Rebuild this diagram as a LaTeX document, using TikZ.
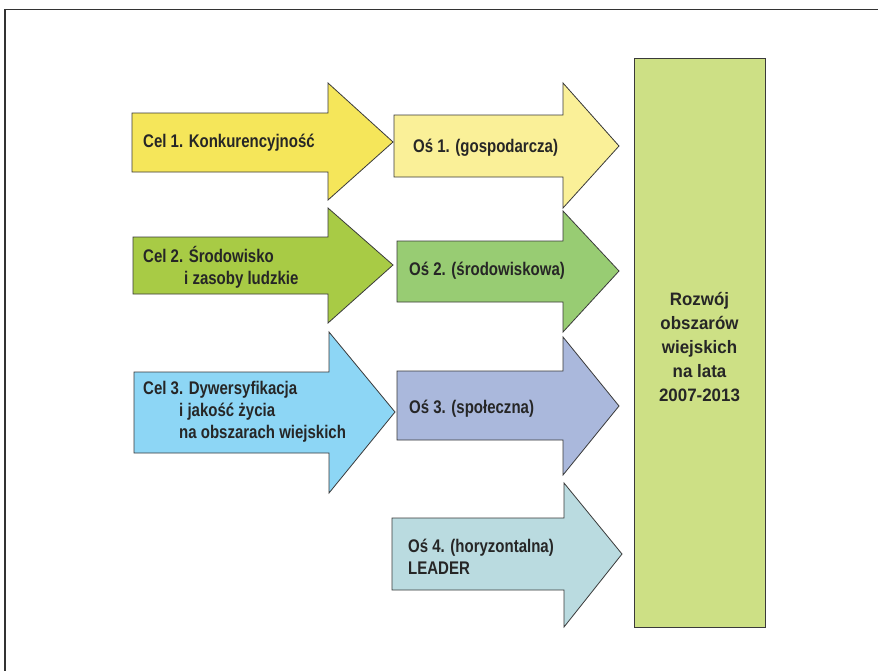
\documentclass[tikz,border=0pt]{standalone}
\usepackage{fontspec}
\setmainfont{Liberation Sans}[FakeStretch=0.82]
\newfontfamily\boxfont{Liberation Sans}[FakeStretch=0.94]
\definecolor{cyel}{HTML}{F5E65A}
\definecolor{oyel}{HTML}{FAF098}
\definecolor{cgrn}{HTML}{A8CB45}
\definecolor{ogrn}{HTML}{98CC73}
\definecolor{cblu}{HTML}{8DD6F5}
\definecolor{oblu}{HTML}{AAB8DC}
\definecolor{ocyn}{HTML}{BADBE0}
\definecolor{boxg}{HTML}{CDE085}
\definecolor{edge}{HTML}{3A3A3A}
\begin{document}
\begin{tikzpicture}[x=1pt,y=-1pt,
  shp/.style={draw=edge,line width=0.8pt,line join=miter},
  lbl/.style={anchor=west,inner sep=0pt,align=left,text=black!85,font=\bfseries\fontsize{18.3}{22}\selectfont},
  boxlbl/.style={inner sep=0pt,align=center,text=black!85,font=\boxfont\bfseries\fontsize{18}{24}\selectfont}]
\useasboundingbox (0,0) rectangle (878,670);
\fill[white] (0,0) rectangle (878,670);
% frame
\draw[line width=1.6pt,black!80] (5,671) -- (5,9.5) -- (879,9.5);
% arrows column 1
\draw[shp,fill=cyel] (132,113) -- (328,113) -- (328,83) -- (393,142) -- (328,200) -- (328,172) -- (132,172) -- cycle;
\draw[shp,fill=cgrn] (133,237) -- (328,237) -- (328,208) -- (393,265) -- (328,323) -- (328,294) -- (133,294) -- cycle;
\draw[shp,fill=cblu] (134,372) -- (329,372) -- (329,332) -- (395,412) -- (329,493) -- (329,453) -- (134,453) -- cycle;
% arrows column 2
\draw[shp,fill=oyel] (394,115) -- (563,115) -- (563,83) -- (619,146) -- (563,208) -- (563,177) -- (394,177) -- cycle;
\draw[shp,fill=ogrn] (397,241) -- (563,241) -- (563,211) -- (619,271) -- (563,332) -- (563,302) -- (397,302) -- cycle;
\draw[shp,fill=oblu] (397,371) -- (563,371) -- (563,337) -- (619,406) -- (563,475) -- (563,440) -- (397,440) -- cycle;
\draw[shp,fill=ocyn] (392,518) -- (564,518) -- (564,483) -- (622,554) -- (564,627) -- (564,590) -- (392,590) -- cycle;
% big box
\draw[shp,fill=boxg] (634,58) rectangle (765,627);
% labels
\node[lbl] (c1) at (143,143) {Cel 1. Konkurencyjność};
\node[lbl] (c2) at (143,267) {Cel 2. Środowisko\\\hspace*{41pt}i zasoby ludzkie};
\node[lbl] (c3) at (143,412) {Cel 3. Dywersyfikacja\\\hspace*{36pt}i jakość życia\\\hspace*{36pt}na obszarach wiejskich};
\node[lbl] (o1) at (413,148) {Oś 1. (gospodarcza)};
\node[lbl] (o2) at (409,271) {Oś 2. (środowiskowa)};
\node[lbl] (o3) at (409,409) {Oś 3. (społeczna)};
\node[lbl] (o4) at (408,557) {Oś 4. (horyzontalna)\\LEADER};
\node[boxlbl] (rw) at (699.5,347) {Rozwój\\obszarów\\wiejskich\\na lata\\2007-2013};
\end{tikzpicture}
\end{document}
